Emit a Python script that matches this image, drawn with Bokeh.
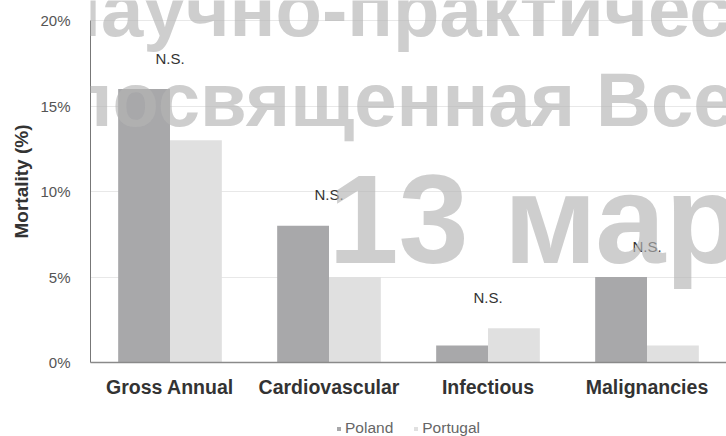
from bokeh.plotting import figure
from bokeh.layouts import column
from bokeh.models import (ColumnDataSource, FactorRange, Range1d, FixedTicker,
                          PrintfTickFormatter, Legend, LegendItem, Label)
from bokeh.transform import dodge
from bokeh.core.properties import value
from bokeh.embed import file_html
from bokeh.resources import INLINE

# Mortality by cause, Poland vs Portugal (%)
categories = ["Gross Annual", "Cardiovascular", "Infectious", "Malignancies"]
countries = ["Poland", "Portugal"]
poland = [16, 8, 1, 5]
portugal = [13, 5, 2, 1]
significance = ["N.S.", "N.S.", "N.S.", "N.S."]
y_ticks = [0, 5, 10, 15, 20]

# Conference banner text laid over the chart
banner_lines = ["К научно-практической конференции",
                "посвященная Всемирному дню почки",
                "13 марта"]

FONT = "Liberation Sans"
COLORS = {"Poland": "#a8a8aa", "Portugal": "#e0e0e0"}

note_offset = 1.8
source = ColumnDataSource(dict(
    cat=categories,
    Poland=poland,
    Portugal=portugal,
    note=significance,
    note_y=[max(a, b) + note_offset for a, b in zip(poland, portugal)],
))

# the frame reaches the top edge so the banner is not cut; the axis stops at 20%
y_max = 20
y_top = y_max * 362 / 342
LEGEND_H = 20

p = figure(
    width=726, height=436 - LEGEND_H,
    x_range=FactorRange(factors=categories, range_padding=0),
    y_range=Range1d(0, y_top),
    output_backend="svg", toolbar_location=None,
    min_border_left=90, min_border_right=0,
    min_border_top=0, min_border_bottom=74 - LEGEND_H,
)
p.outline_line_color = None
p.background_fill_color = "white"
p.border_fill_color = "white"

bar_w = 0.326
for i, name in enumerate(countries):
    p.vbar(x=dodge("cat", (i - 0.5) * bar_w, range=p.x_range), top=name,
           width=bar_w, source=source, fill_color=COLORS[name], line_color=None)

p.text(x="cat", y="note_y", text="note", source=source,
       text_font=value(FONT), text_font_size="15px", text_color="#333333",
       text_align="center", text_baseline="middle")

# axes
p.xgrid.grid_line_color = None
p.ygrid.grid_line_color = "#e8e8e8"
p.ygrid.ticker = FixedTicker(ticks=y_ticks)

p.yaxis.bounds = (0, y_max)
p.yaxis.ticker = FixedTicker(ticks=y_ticks)
p.yaxis.formatter = PrintfTickFormatter(format="%d%%")
p.yaxis.axis_line_color = "#777777"
p.yaxis.major_tick_line_color = None
p.yaxis.minor_tick_line_color = None
p.yaxis.major_label_standoff = 14
p.yaxis.major_label_text_font = FONT
p.yaxis.major_label_text_font_size = "15px"
p.yaxis.major_label_text_color = "#555555"
p.yaxis.axis_label = "Mortality (%)"
p.yaxis.axis_label_text_font = FONT
p.yaxis.axis_label_text_font_style = "bold"
p.yaxis.axis_label_text_font_size = "19px"
p.yaxis.axis_label_text_color = "#333333"
p.yaxis.axis_label_standoff = 5

p.xaxis.axis_line_color = "#8a8a8a"
p.xaxis.axis_line_width = 1.5
p.xaxis.major_tick_line_color = None
p.xaxis.minor_tick_line_color = None
p.xaxis.major_label_standoff = 7
p.xaxis.major_label_text_font = FONT
p.xaxis.major_label_text_font_style = "bold"
p.xaxis.major_label_text_font_size = "19.5px"
p.xaxis.major_label_text_color = "#333333"

# banner text in large grey letters; y is the bottom of each text box
banner_specs = [(banner_lines[0], -103, 311, "76px"),
                (banner_lines[1], -24, 221, "76px"),
                (banner_lines[2], 238, 73, "126px")]
for txt, sx, sy, size in banner_specs:
    p.add_layout(Label(x=sx, y=sy, x_units="screen", y_units="screen", text=txt,
                       text_font=FONT, text_font_style="bold", text_font_size=size,
                       text_color="#b4b4b4", text_alpha=0.65))

# legend strip under the chart; its swatch renderers hold a zero-width bar
leg = figure(
    width=726, height=LEGEND_H, x_range=Range1d(0, 1), y_range=Range1d(0, 1),
    x_axis_type=None, y_axis_type=None,
    output_backend="svg", toolbar_location=None,
    min_border_left=90, min_border_right=0, min_border_top=4, min_border_bottom=0,
)
leg.outline_line_color = None
leg.border_fill_color = "white"
swatches = [leg.vbar(x=[0.5], top=[0], width=0, fill_color=COLORS[name], line_color=None)
            for name in countries]
legend = Legend(
    items=[LegendItem(label=name, renderers=[r]) for name, r in zip(countries, swatches)],
    orientation="horizontal", location="center",
    glyph_width=5, glyph_height=5, label_text_font=FONT,
    label_text_font_size="15.5px", label_text_color="#666666",
    label_standoff=4, spacing=20, padding=0, margin=0,
    border_line_color=None, background_fill_alpha=0,
)
leg.add_layout(legend, "center")

open("out.html", "w").write(file_html(column(p, leg, spacing=0), INLINE))
